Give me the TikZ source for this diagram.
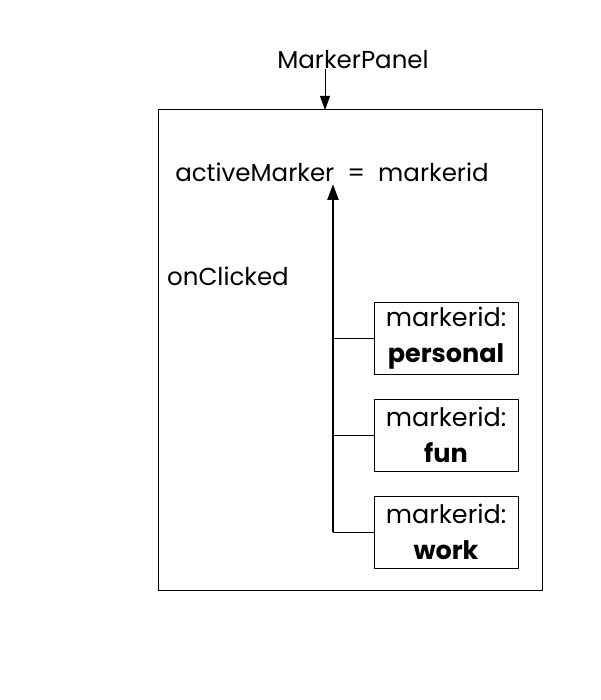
\documentclass[tikz,border=0pt]{standalone}
\usepackage{fontspec}
\setmainfont{Poppins}
\usepackage{tikz}
\usetikzlibrary{arrows.meta, positioning}

\begin{document}
\begin{tikzpicture}[x=1pt, y=-1pt,
  panel/.style={rectangle, draw=black, line width=1pt, minimum width=384pt, minimum height=480pt},
  marker/.style={rectangle, draw=black, line width=1pt, minimum width=144pt, minimum height=72pt, align=center, inner sep=0pt, font=\fontsize{25.5}{36}\selectfont},
  caption/.style={font=\fontsize{24.5}{28}\selectfont, inner sep=0pt},
  line/.style={draw=black, line width=1pt, -{Triangle[length=14pt, width=10pt]}},
  trunk/.style={draw=black, line width=2.5pt, -{Triangle[length=16pt, width=11pt]}}]

  \useasboundingbox (0,0) rectangle (600,700);

  \node [panel] (panel) at (350,350) {};
  \node [caption] (title) at (353,60) {MarkerPanel};
  \node [caption] (active) at (332,172) {activeMarker\ \ =\ \ markerid};
  \node [caption, anchor=west] (clicked) at (167,276) {onClicked};

  \node [marker] (personal) at (446,338) {markerid:\\\textbf{personal}};
  \node [marker, below=24pt of personal] (fun) {markerid:\\\textbf{fun}};
  \node [marker, below=24pt of fun] (work) {markerid:\\\textbf{work}};

  \coordinate (entry) at (325,110);
  \coordinate (root) at (333,184);

  \draw [line] (entry |- title.south) -- (entry);
  \draw [trunk] (work.west -| root) -- (root);
  \foreach \m in {personal,fun,work}
    \draw [line width=1pt] (\m.west) -- (\m.west -| root);

\end{tikzpicture}
\end{document}
